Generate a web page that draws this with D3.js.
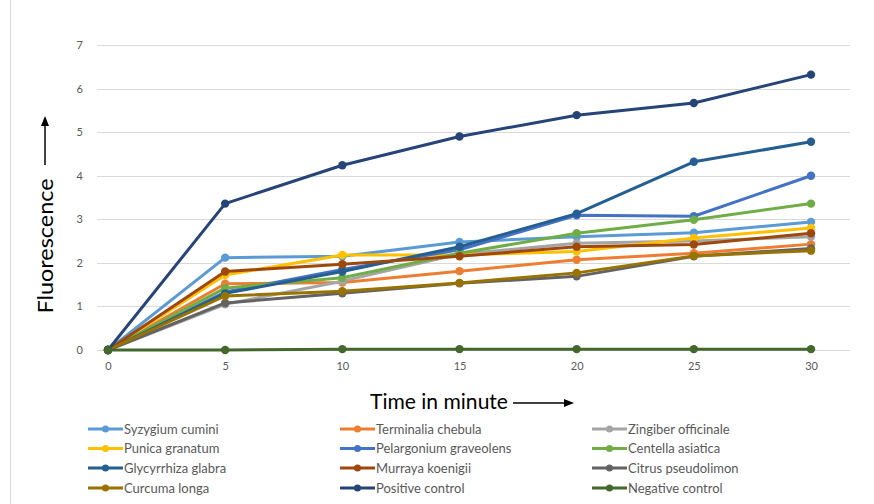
<!DOCTYPE html>
<html><head><meta charset="utf-8">
<script src="https://cdn.jsdelivr.net/npm/d3@7"></script>
<style>body{margin:0;background:#fff}svg{display:block}</style>
</head><body><svg id="c" width="874" height="504"></svg>
<script>
const times = [0, 5, 10, 15, 20, 25, 30];
const yTicks = [0, 1, 2, 3, 4, 5, 6, 7];
const seriesNames = ["Syzygium cumini","Terminalia chebula","Zingiber officinale","Punica granatum","Pelargonium graveolens","Centella asiatica","Glycyrrhiza glabra","Murraya koenigii","Citrus pseudolimon","Curcuma longa","Positive control","Negative control"];
const seriesColors = ["#5b9bd5","#ed7d31","#a5a5a5","#ffc000","#4472c4","#70ad47","#255e91","#9e480e","#636363","#997300","#264478","#43682b"];
const syzygium    = [0, 2.12, 2.15, 2.48, 2.60, 2.69, 2.94];
const terminalia  = [0, 1.52, 1.55, 1.81, 2.07, 2.22, 2.43];
const zingiber    = [0, 1.05, 1.58, 2.20, 2.45, 2.50, 2.60];
const punica      = [0, 1.72, 2.18, 2.18, 2.26, 2.57, 2.80];
const pelargonium = [0, 1.33, 1.85, 2.30, 3.09, 3.07, 4.00];
const centella    = [0, 1.42, 1.66, 2.22, 2.68, 2.99, 3.36];
const glycyrrhiza = [0, 1.30, 1.80, 2.37, 3.13, 4.32, 4.78];
const murraya     = [0, 1.80, 1.97, 2.15, 2.37, 2.42, 2.68];
const citrus      = [0, 1.08, 1.30, 1.53, 1.69, 2.15, 2.33];
const curcuma     = [0, 1.24, 1.35, 1.54, 1.77, 2.16, 2.28];
const positive    = [0, 3.36, 4.24, 4.90, 5.39, 5.67, 6.32];
const negative    = [0, 0.00, 0.02, 0.02, 0.02, 0.02, 0.02];
const seriesValues = [syzygium, terminalia, zingiber, punica, pelargonium, centella, glycyrrhiza, murraya, citrus, curcuma, positive, negative];

const svg = d3.select("#c");
const font = "Lato, 'Open Sans', sans-serif";
const x = d3.scaleLinear().domain([0, 30]).range([108, 811]);
const y = d3.scaleLinear().domain([0, 7]).range([350, 45]);

// chart border line on left
svg.append("line").attr("x1", 10.5).attr("x2", 10.5).attr("y1", 0).attr("y2", 504).attr("stroke", "#d9d9d9");

// gridlines
svg.append("g").selectAll("line").data(yTicks).join("line")
  .attr("x1", 97).attr("x2", 850)
  .attr("y1", d => Math.round(y(d)) + 0.5).attr("y2", d => Math.round(y(d)) + 0.5)
  .attr("stroke", "#d9d9d9").attr("stroke-width", 1);

// y axis labels
const yAxis = d3.axisLeft(y).tickValues(yTicks).tickSize(0).tickPadding(0).tickFormat(d3.format("d"));
const gy = svg.append("g").attr("transform", "translate(83,0)").call(yAxis);
gy.select(".domain").remove();
gy.selectAll("text").attr("fill", "#595959").attr("font-family", font).attr("font-size", 11);

// x axis labels
const xAxis = d3.axisBottom(x).tickValues(times).tickSize(0).tickPadding(0).tickFormat(d3.format("d"));
const gx = svg.append("g").attr("transform", "translate(0,362)").call(xAxis);
gx.select(".domain").remove();
gx.selectAll("text").attr("fill", "#595959").attr("font-family", font).attr("font-size", 11);

// lines
const line = d3.line().x((d, i) => x(times[i])).y(d => y(d));
const gs = svg.append("g");
seriesValues.forEach((vals, si) => {
  const g = gs.append("g");
  g.append("path").attr("d", line(vals)).attr("fill", "none")
    .attr("stroke", seriesColors[si]).attr("stroke-width", 3).attr("stroke-linejoin", "round");
  g.selectAll("circle").data(vals).join("circle")
    .attr("cx", (d, i) => x(times[i])).attr("cy", d => y(d)).attr("r", 4.2)
    .attr("fill", seriesColors[si]);
});

// axis titles
svg.append("text").attr("transform", "translate(53,246) rotate(-90)")
  .attr("text-anchor", "middle").attr("font-family", font).attr("font-size", 21).attr("fill", "#000")
  .attr("textLength", 135).attr("lengthAdjust", "spacingAndGlyphs")
  .text("Fluorescence");
svg.append("line").attr("x1", 45).attr("x2", 45).attr("y1", 165).attr("y2", 124)
  .attr("stroke", "#000").attr("stroke-width", 1.5);
svg.append("path").attr("d", "M45,116 L41,126 L49,126 Z").attr("fill", "#000");

svg.append("text").attr("x", 370).attr("y", 409).attr("font-family", font).attr("font-size", 20.5).attr("fill", "#000")
  .attr("textLength", 138).attr("lengthAdjust", "spacingAndGlyphs")
  .text("Time in minute");
svg.append("line").attr("x1", 513).attr("x2", 566).attr("y1", 403).attr("y2", 403)
  .attr("stroke", "#000").attr("stroke-width", 1.5);
svg.append("path").attr("d", "M574,403 L564,399 L564,407 Z").attr("fill", "#000");

// legend
const colX = [88, 340, 592];
const rowY = [429, 448.5, 468, 488];
const lg = svg.append("g");
seriesNames.forEach((name, i) => {
  const cx = colX[i % 3], cy = rowY[Math.floor(i / 3)];
  lg.append("line").attr("x1", cx).attr("x2", cx + 35).attr("y1", cy).attr("y2", cy)
    .attr("stroke", seriesColors[i]).attr("stroke-width", 3);
  lg.append("circle").attr("cx", cx + 17.5).attr("cy", cy).attr("r", 3.5).attr("fill", seriesColors[i]);
  lg.append("text").attr("x", cx + 36).attr("y", cy + 4.5).attr("font-family", font).attr("font-size", 13)
    .attr("fill", "#595959").text(name);
});
</script></body></html>
